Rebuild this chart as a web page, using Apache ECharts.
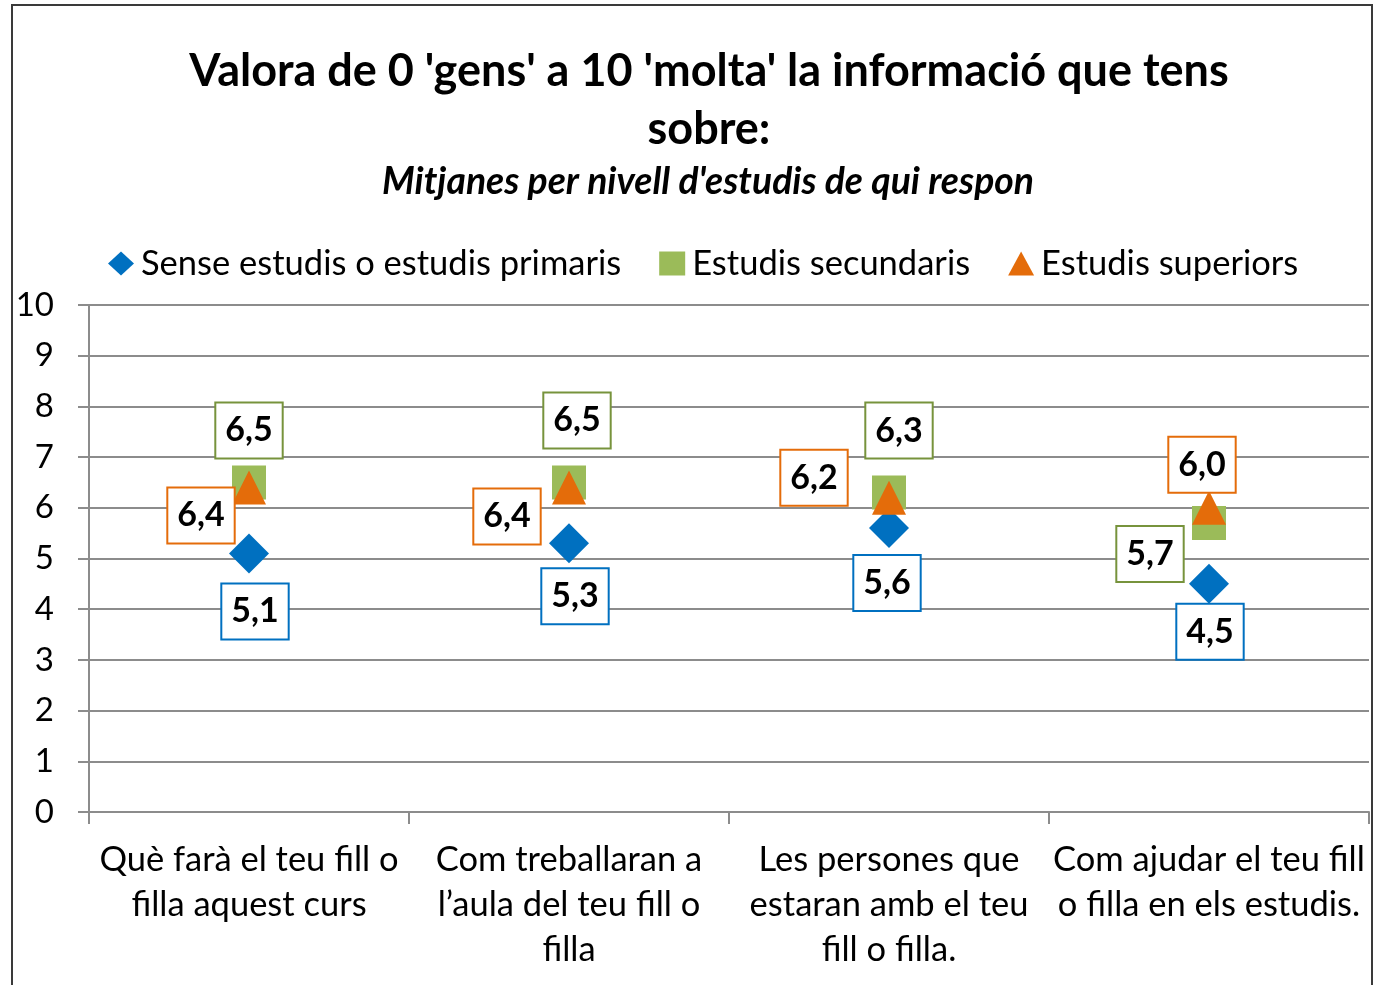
<!DOCTYPE html>
<html>
<head>
    <meta charset="utf-8">
    <script src="https://cdn.jsdelivr.net/npm/echarts@6/dist/echarts.min.js"></script>
    <style>
        html, body { margin: 0; padding: 0; background: #fff; }
    </style>
</head>
<body>
<div id="main" style="width: 1378px;height:985px;"></div>
<script type="text/javascript">
    // dades
    var categories = [
        'Què farà el teu fill o\nfilla aquest curs',
        'Com treballaran a\nl\u2019aula del teu fill o\nfilla',
        'Les persones que\nestaran amb el teu\nfill o filla.',
        'Com ajudar el teu fill\no filla en els estudis.'
    ];
    var seriesNames = ['Sense estudis o estudis primaris', 'Estudis secundaris', 'Estudis superiors'];
    var primaris = [5.1, 5.3, 5.6, 4.5];
    var secundaris = [6.5, 6.5, 6.3, 5.7];
    var superiors = [6.4, 6.4, 6.2, 6.0];

    // on va cada etiqueta respecte al marcador (px)
    var offPrimaris = [[6, 58], [6, 53], [-2, 55], [1, 48]];
    var offSecundaris = [[0, -52], [8, -62], [10, -62], [-59, 31]];
    var offSuperiors = [[-48, 28], [-62, 29], [-75, -20], [-7, -43]];

    var FONT = 'Lato';

    function buildData(values, offsets, border) {
        var out = [];
        for (var i = 0; i < values.length; i++) {
            out.push({
                value: values[i],
                label: {offset: offsets[i], borderColor: border}
            });
        }
        return out;
    }

    function labelStyle() {
        return {
            show: true,
            position: 'inside',
            formatter: function (p) {
                return p.value.toFixed(1).replace('.', ',');
            },
            fontFamily: FONT,
            fontWeight: 'bold',
            fontSize: 34,
            color: '#000',
            opacity: 1,
            backgroundColor: '#fff',
            borderWidth: 2,
            padding: [10, 9, 10, 9],
            lineHeight: 34
        };
    }

    var chart = echarts.init(document.getElementById('main'));

    chart.setOption({
        animation: false,
        textStyle: {fontFamily: FONT},
        graphic: [{
            type: 'rect',
            shape: {x: 12, y: 5, width: 1360, height: 1000},
            style: {fill: 'none', stroke: '#3a3a3a', lineWidth: 2},
            silent: true,
            z: -1
        }],
        title: [{
            text: "Valora de 0 'gens' a 10 'molta' la informació que tens\nsobre:",
            left: 704,
            textAlign: 'center',
            top: 37,
            textStyle: {fontFamily: FONT, fontWeight: 'bold', fontSize: 45, lineHeight: 58, color: '#000'}
        }, {
            text: "Mitjanes per nivell d'estudis de qui respon",
            left: 703,
            textAlign: 'center',
            top: 158,
            textStyle: {fontFamily: FONT, fontWeight: 'bold', fontStyle: 'italic', fontSize: 37.3, lineHeight: 38, color: '#000'}
        }],
        legend: {
            left: 103,
            top: 241,
            itemGap: 38,
            itemWidth: 26,
            itemHeight: 24,
            textStyle: {fontFamily: FONT, fontSize: 34.5, color: '#000', padding: [0, 0, 0, 2]},
            data: [
                {name: seriesNames[0], icon: 'diamond'},
                {name: seriesNames[1], icon: 'rect'},
                {name: seriesNames[2], icon: 'triangle'}
            ]
        },
        grid: {left: 89, right: 9, top: 305, bottom: 173, containLabel: false},
        xAxis: {
            type: 'category',
            data: categories,
            boundaryGap: true,
            axisLine: {lineStyle: {color: '#8c8c8c', width: 2}},
            axisTick: {show: true, interval: 0, length: 12, lineStyle: {color: '#8c8c8c', width: 2}},
            axisLabel: {
                interval: 0,
                margin: 25,
                fontFamily: FONT,
                fontSize: 34.5,
                lineHeight: 45,
                color: '#000'
            },
            splitLine: {show: false}
        },
        yAxis: {
            type: 'value',
            min: 0,
            max: 10,
            interval: 1,
            axisLine: {show: true, lineStyle: {color: '#8c8c8c', width: 2}},
            axisTick: {show: true, length: 11, lineStyle: {color: '#8c8c8c', width: 2}},
            axisLabel: {margin: 35, fontFamily: FONT, fontSize: 33, color: '#000'},
            splitLine: {show: true, lineStyle: {color: '#8c8c8c', width: 2}}
        },
        series: [{
            name: seriesNames[0],
            type: 'scatter',
            symbol: 'diamond',
            symbolSize: 40,
            itemStyle: {color: '#0070C0', opacity: 1},
            label: labelStyle(),
            data: buildData(primaris, offPrimaris, '#0070C0')
        }, {
            name: seriesNames[1],
            type: 'scatter',
            symbol: 'rect',
            symbolSize: 34,
            itemStyle: {color: '#9BBB59', opacity: 1},
            label: labelStyle(),
            data: buildData(secundaris, offSecundaris, '#77933C')
        }, {
            name: seriesNames[2],
            type: 'scatter',
            symbol: 'triangle',
            symbolSize: 34,
            itemStyle: {color: '#E46C0A', opacity: 1},
            label: labelStyle(),
            data: buildData(superiors, offSuperiors, '#E46C0A')
        }]
    });
</script>
</body>
</html>
